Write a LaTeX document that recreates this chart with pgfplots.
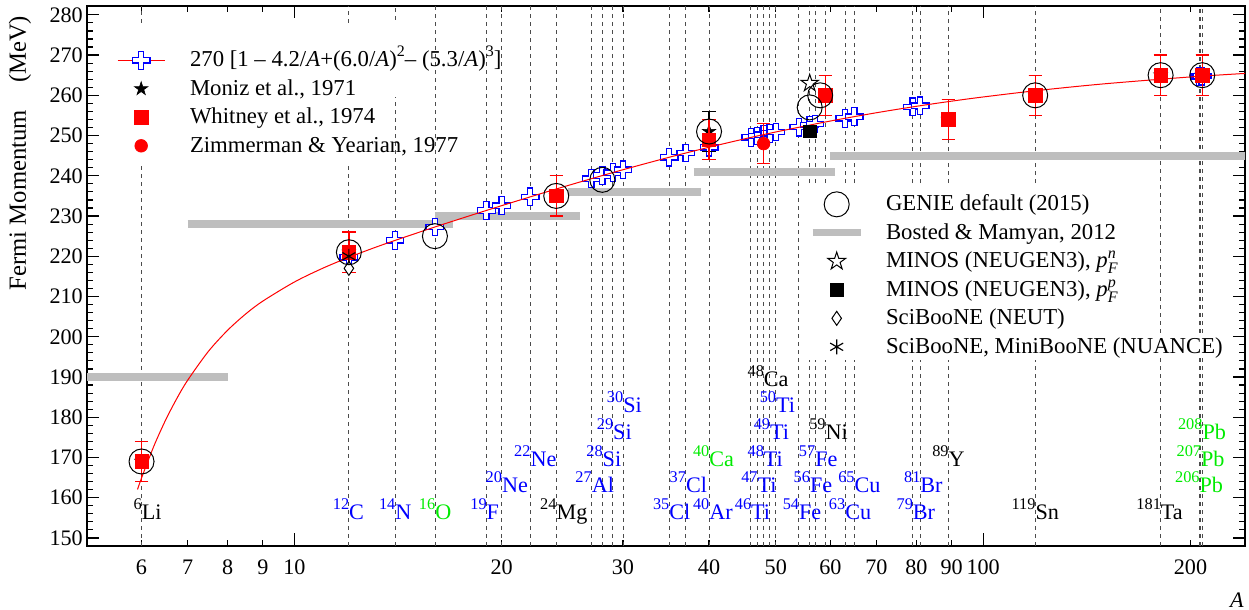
\documentclass[border=0pt]{standalone}
\usepackage{fontspec}
\setmainfont{Liberation Serif}
\usepackage{pgfplots}
\pgfplotsset{compat=1.18}
\usetikzlibrary{plotmarks}
\definecolor{bgray}{RGB}{190,190,190}
\definecolor{lgreen}{RGB}{0,235,0}
\newcommand{\lbl}{\fontsize{13.3}{16}\selectfont}
\newcommand{\lgd}{\fontsize{13.65}{16}\selectfont}
\newcommand{\iso}[2]{\llap{\raisebox{6pt}{\fontsize{9.8}{10}\selectfont #1}}#2}
\newcommand{\sps}[1]{\raisebox{6pt}{\fontsize{9.6}{10}\selectfont #1}}
\pgfdeclareplotmark{ocross}{%
 \pgfpathmoveto{\pgfqpoint{0.3\pgfplotmarksize}{\pgfplotmarksize}}%
 \pgfpathlineto{\pgfqpoint{-0.3\pgfplotmarksize}{\pgfplotmarksize}}%
 \pgfpathlineto{\pgfqpoint{-0.3\pgfplotmarksize}{0.3\pgfplotmarksize}}%
 \pgfpathlineto{\pgfqpoint{-\pgfplotmarksize}{0.3\pgfplotmarksize}}%
 \pgfpathlineto{\pgfqpoint{-\pgfplotmarksize}{-0.3\pgfplotmarksize}}%
 \pgfpathlineto{\pgfqpoint{-0.3\pgfplotmarksize}{-0.3\pgfplotmarksize}}%
 \pgfpathlineto{\pgfqpoint{-0.3\pgfplotmarksize}{-\pgfplotmarksize}}%
 \pgfpathlineto{\pgfqpoint{0.3\pgfplotmarksize}{-\pgfplotmarksize}}%
 \pgfpathlineto{\pgfqpoint{0.3\pgfplotmarksize}{-0.3\pgfplotmarksize}}%
 \pgfpathlineto{\pgfqpoint{\pgfplotmarksize}{-0.3\pgfplotmarksize}}%
 \pgfpathlineto{\pgfqpoint{\pgfplotmarksize}{0.3\pgfplotmarksize}}%
 \pgfpathlineto{\pgfqpoint{0.3\pgfplotmarksize}{0.3\pgfplotmarksize}}%
 \pgfpathclose\pgfusepathqfillstroke}
\pgfdeclareplotmark{fstar}{%
 \pgfpathmoveto{\pgfqpoint{0pt}{\pgfplotmarksize}}%
 \pgfpathlineto{\pgfqpoint{-0.2245\pgfplotmarksize}{0.3090\pgfplotmarksize}}%
 \pgfpathlineto{\pgfqpoint{-0.9511\pgfplotmarksize}{0.3090\pgfplotmarksize}}%
 \pgfpathlineto{\pgfqpoint{-0.3633\pgfplotmarksize}{-0.1180\pgfplotmarksize}}%
 \pgfpathlineto{\pgfqpoint{-0.5878\pgfplotmarksize}{-0.8090\pgfplotmarksize}}%
 \pgfpathlineto{\pgfqpoint{0pt}{-0.382\pgfplotmarksize}}%
 \pgfpathlineto{\pgfqpoint{0.5878\pgfplotmarksize}{-0.8090\pgfplotmarksize}}%
 \pgfpathlineto{\pgfqpoint{0.3633\pgfplotmarksize}{-0.1180\pgfplotmarksize}}%
 \pgfpathlineto{\pgfqpoint{0.9511\pgfplotmarksize}{0.3090\pgfplotmarksize}}%
 \pgfpathlineto{\pgfqpoint{0.2245\pgfplotmarksize}{0.3090\pgfplotmarksize}}%
 \pgfpathclose\pgfusepathqfillstroke}
\pgfdeclareplotmark{odiamond}{%
 \pgfpathmoveto{\pgfqpoint{0pt}{\pgfplotmarksize}}%
 \pgfpathlineto{\pgfqpoint{-0.68\pgfplotmarksize}{0pt}}%
 \pgfpathlineto{\pgfqpoint{0pt}{-\pgfplotmarksize}}%
 \pgfpathlineto{\pgfqpoint{0.68\pgfplotmarksize}{0pt}}%
 \pgfpathclose\pgfusepathqfillstroke}
\begin{document}
\begin{tikzpicture}
\begin{axis}[
 scale only axis, width=694.8pt, height=324pt,
 xmode=log, xmin=5, xmax=240, ymin=148, ymax=282.2,
 clip mode=individual,
 axis line style={line width=0.9pt},
 tick style={black, line width=0.7pt},
 major tick length=7.5pt, minor tick length=3.6pt,
 tick pos=both,
 xtick={10,100}, xticklabels={10,100},
 minor xtick={6,7,8,9,20,30,40,50,60,70,80,90,200},
 extra x ticks={6,7,8,9,20,30,40,50,60,70,80,90,200},
 extra x tick labels={6,7,8,9,20,30,40,50,60,70,80,90,200},
 extra x tick style={major tick length=0pt},
 ytick={150,160,...,280}, minor y tick num=4,
 /pgf/number format/assume math mode=true,
 tick label style={font=\lbl},
 xticklabel style={yshift=-5pt},
 yticklabel style={xshift=1pt},
 xlabel={\textit{A}},
 xlabel style={at={(axis description cs:0.9931,-0.1)}, anchor=center, font=\lbl},
 ylabel={Fermi Momentum\hspace{1.1em}(MeV)},
 ylabel style={at={(axis description cs:-0.0579,0.9926)}, anchor=east, font=\fontsize{14.8}{17}\selectfont},
 legend cell align=left,
 legend style={at={(axis description cs:0.02591,0.91543)}, anchor=north west,
   draw=none, fill=none, inner sep=0pt, row sep=5.1pt, column sep=0pt,
   font=\lgd, nodes={inner sep=0pt, text height=9pt, text depth=3pt}},
]
% isotope guide lines
\addplot[forget plot, black!70, line width=0.5pt, dash pattern=on 2.4pt off 2.4pt, unbounded coords=jump] coordinates {
 (6,148) (6,243.2) (6,nan) (6,278) (6,282.2) (6,nan)
 (12,148) (12,243.2) (12,nan) (12,278) (12,282.2) (12,nan)
 (14,148) (14,259.6) (14,nan) (14,278.8) (14,282.2) (14,nan)
 (16,148) (16,282.2) (16,nan)
 (19,148) (19,282.2) (19,nan)
 (20,148) (20,282.2) (20,nan)
 (22,148) (22,282.2) (22,nan)
 (24,148) (24,282.2) (24,nan)
 (27,148) (27,282.2) (27,nan)
 (28,148) (28,282.2) (28,nan)
 (29,148) (29,282.2) (29,nan)
 (30,148) (30,282.2) (30,nan)
 (35,148) (35,282.2) (35,nan)
 (37,148) (37,282.2) (37,nan)
 (40,148) (40,282.2) (40,nan)
 (46,148) (46,282.2) (46,nan)
 (47,148) (47,282.2) (47,nan)
 (48,148) (48,282.2) (48,nan)
 (49,148) (49,282.2) (49,nan)
 (50,148) (50,282.2) (50,nan)
 (54,148) (54,282.2) (54,nan)
 (56,148) (56,194.2) (56,nan) (56,238.2) (56,282.2) (56,nan)
 (57,148) (57,194.2) (57,nan) (57,238.2) (57,282.2) (57,nan)
 (59,148) (59,194.2) (59,nan) (59,238.2) (59,282.2) (59,nan)
 (63,148) (63,194.2) (63,nan) (63,238.2) (63,282.2) (63,nan)
 (65,148) (65,194.2) (65,nan) (65,238.2) (65,282.2) (65,nan)
 (79,148) (79,194.2) (79,nan) (79,238.2) (79,282.2) (79,nan)
 (81,148) (81,194.2) (81,nan) (81,238.2) (81,282.2) (81,nan)
 (89,148) (89,194.2) (89,nan) (89,238.2) (89,282.2) (89,nan)
 (119,148) (119,194.2) (119,nan) (119,238.2) (119,282.2) (119,nan)
 (181,148) (181,194.7) (181,nan) (181,201) (181,282.2) (181,nan)
 (206,148) (206,194.7) (206,nan) (206,201) (206,282.2) (206,nan)
 (207,148) (207,194.7) (207,nan) (207,201) (207,282.2) (207,nan)
 (208,148) (208,194.7) (208,nan) (208,201) (208,282.2)
};
% Bosted & Mamyan bands
\addplot[forget plot, bgray, line width=4.6pt] coordinates {(4,190) (8,190)};
\addplot[forget plot, bgray, line width=4.6pt] coordinates {(7,228) (17,228)};
\addplot[forget plot, bgray, line width=4.6pt] coordinates {(16,230) (26,230)};
\addplot[forget plot, bgray, line width=4.6pt] coordinates {(25,236) (39,236)};
\addplot[forget plot, bgray, line width=4.6pt] coordinates {(38,241) (61,241)};
\addplot[forget plot, bgray, line width=4.6pt] coordinates {(60,245) (300,245)};
% parametrisation points
\addplot[forget plot, only marks, mark=ocross, mark size=5.3pt, mark options={draw=blue, fill=white, line width=0.75pt}] coordinates {
 (12,219.74) (14,223.94) (16,227.28) (19,231.38) (20,232.58) (22,234.76)
 (27,239.29) (28,240.07) (29,240.81) (30,241.51) (35,244.60) (37,245.66)
 (40,247.10) (46,249.53) (47,249.89) (48,250.23) (49,250.56) (50,250.89)
 (54,252.08) (56,252.62) (57,252.88) (63,254.29) (65,254.71) (79,257.12)
 (81,257.41) (206,264.72) (207,264.73) (208,264.77)};
% parametrisation curve
\addplot[forget plot, red, line width=0.6pt, smooth] coordinates {
 (5.92,162.05) (6,164.90) (6.25,172.75) (6.5,179.23) (6.75,184.63) (7,189.18)
 (7.5,196.32) (8,201.61) (8.5,205.67) (9,208.86) (10,213.60) (11,217.04)
 (12,219.74) (13,221.99) (14,223.94) (16,227.28) (18,230.11) (20,232.58)
 (22,234.76) (24,236.72) (27,239.29) (30,241.51) (35,244.60) (40,247.10)
 (45,249.16) (50,250.89) (60,253.61) (70,255.67) (80,257.27) (90,258.55)
 (100,259.59) (120,261.20) (150,262.86) (200,264.57) (240,265.44)};
% Moniz 1971
\addplot[forget plot, only marks, mark=fstar, mark size=4.2pt, black,
 error bars/.cd, y dir=both, y explicit,
 error bar style={black, line width=0.7pt},
 error mark options={rotate=90, black, mark size=4pt, line width=0.7pt}] coordinates {
 (6,169) +- (0,5) (12,221) +- (0,5) (24,235) +- (0,5) (40,251) +- (0,5)
 (59,260) +- (0,5) (89,254) +- (0,5) (119,260) +- (0,5) (181,265) +- (0,5) (208,265) +- (0,5)};
% Whitney 1974
\addplot[forget plot, only marks, mark=square*, mark size=4pt, red,
 error bars/.cd, y dir=both, y explicit,
 error bar style={red, line width=0.8pt},
 error mark options={rotate=90, red, mark size=4pt, line width=0.8pt}] coordinates {
 (6,169) +- (0,5) (12,221) +- (0,5) (24,235) +- (0,5) (40,249) +- (0,5)
 (59,260) +- (0,5) (89,254) +- (0,5) (119,260) +- (0,5) (181,265) +- (0,5) (208,265) +- (0,5)};
% Zimmerman & Yearian 1977
\addplot[forget plot, only marks, mark=*, mark size=3.8pt, red,
 error bars/.cd, y dir=both, y explicit,
 error bar style={red, line width=0.8pt},
 error mark options={rotate=90, red, mark size=4pt, line width=0.8pt}] coordinates {
 (48,248) +- (0,5)};
% MINOS
\addplot[forget plot, only marks, mark=fstar, mark size=5.4pt, mark options={draw=black, fill=white, line width=0.6pt}] coordinates {(56,263)};
\addplot[forget plot, only marks, mark=square*, mark size=3.7pt, black] coordinates {(56,251)};
% SciBooNE
\addplot[forget plot, only marks, mark=odiamond, mark size=4.2pt, mark options={draw=black, fill=white, line width=0.6pt}] coordinates {(12,217)};
\addplot[forget plot, only marks, mark=asterisk, mark size=4.5pt, mark options={black, line width=0.7pt}] coordinates {(12,220)};
% GENIE default
\addplot[forget plot, only marks, mark=o, mark size=7.5pt, mark options={black, line width=0.6pt}] coordinates {
 (6,169) (12,221) (16,225) (24,235) (28,239) (40,251) (56,257) (58,260) (119,260) (181,265) (208,265)};
% isotope labels
\begin{scope}[every node/.style={anchor=base west, inner sep=0pt, font=\lbl}]
\node[text=black] at (axis cs:6,154.5) {\iso{6}{Li}};
\node[text=blue] at (axis cs:12,154.5) {\iso{12}{C}};
\node[text=blue] at (axis cs:14,154.5) {\iso{14}{N}};
\node[text=lgreen] at (axis cs:16,154.5) {\iso{16}{O}};
\node[text=blue] at (axis cs:19,154.5) {\iso{19}{F}};
\node[text=black] at (axis cs:24,154.5) {\iso{24}{Mg}};
\node[text=blue] at (axis cs:35,154.5) {\iso{35}{Cl}};
\node[text=blue] at (axis cs:40,154.5) {\iso{40}{Ar}};
\node[text=blue] at (axis cs:46,154.5) {\iso{46}{Ti}};
\node[text=blue] at (axis cs:54,154.5) {\iso{54}{Fe}};
\node[text=blue] at (axis cs:63,154.5) {\iso{63}{Cu}};
\node[text=blue] at (axis cs:79,154.5) {\iso{79}{Br}};
\node[text=black] at (axis cs:119,154.5) {\iso{119}{Sn}};
\node[text=black] at (axis cs:181,154.5) {\iso{181}{Ta}};
\node[text=blue] at (axis cs:20,161.3) {\iso{20}{Ne}};
\node[text=blue] at (axis cs:27,161.3) {\iso{27}{Al}};
\node[text=blue] at (axis cs:37,161.3) {\iso{37}{Cl}};
\node[text=blue] at (axis cs:47,161.3) {\iso{47}{Ti}};
\node[text=blue] at (axis cs:56,161.3) {\iso{56}{Fe}};
\node[text=blue] at (axis cs:65,161.3) {\iso{65}{Cu}};
\node[text=blue] at (axis cs:81,161.3) {\iso{81}{Br}};
\node[text=lgreen] at (axis cs:206,161.3) {\iso{206}{Pb}};
\node[text=blue] at (axis cs:22,167.7) {\iso{22}{Ne}};
\node[text=blue] at (axis cs:28,167.7) {\iso{28}{Si}};
\node[text=lgreen] at (axis cs:40,167.7) {\iso{40}{Ca}};
\node[text=blue] at (axis cs:48,167.7) {\iso{48}{Ti}};
\node[text=blue] at (axis cs:57,167.7) {\iso{57}{Fe}};
\node[text=black] at (axis cs:89,167.7) {\iso{89}{Y}};
\node[text=lgreen] at (axis cs:207,167.7) {\iso{207}{Pb}};
\node[text=blue] at (axis cs:29,174.5) {\iso{29}{Si}};
\node[text=blue] at (axis cs:49,174.5) {\iso{49}{Ti}};
\node[text=black] at (axis cs:59,174.5) {\iso{59}{Ni}};
\node[text=lgreen] at (axis cs:208,174.5) {\iso{208}{Pb}};
\node[text=blue] at (axis cs:30,181.1) {\iso{30}{Si}};
\node[text=blue] at (axis cs:50,181.1) {\iso{50}{Ti}};
\node[text=black] at (axis cs:48,187.6) {\iso{48}{Ca}};
\end{scope}
\coordinate (SW) at (rel axis cs:0,0);
% legend 1
\addlegendimage{legend image code/.code={%
 \draw[overlay, red, line width=0.6pt] (0pt,1pt) -- (28.2pt,1pt);
 \draw[overlay, blue, fill=white, line width=0.75pt] plot[mark=ocross, mark size=5.3pt] coordinates {(14.1pt,1pt)};
 \path (0pt,0pt) (43.2pt,0pt);}}
\addlegendentry{270 [1 -- 4.2/\textit{A}+(6.0/\textit{A})\sps{2}-- (5.3/\textit{A})\sps{3}]}
\addlegendimage{legend image code/.code={%
 \draw[overlay, black, fill=black] plot[mark=fstar, mark size=4.2pt] coordinates {(14.1pt,1pt)};
 \path (0pt,0pt) (43.2pt,0pt);}}
\addlegendentry{Moniz et al., 1971}
\addlegendimage{legend image code/.code={%
 \draw[overlay, red, fill=red] plot[mark=square*, mark size=4pt] coordinates {(14.1pt,1pt)};
 \path (0pt,0pt) (43.2pt,0pt);}}
\addlegendentry{Whitney et al., 1974}
\addlegendimage{legend image code/.code={%
 \draw[overlay, red, fill=red] plot[mark=*, mark size=3.8pt] coordinates {(14.1pt,1pt)};
 \path (0pt,0pt) (43.2pt,0pt);}}
\addlegendentry{Zimmerman \& Yearian, 1977}
\end{axis}
\begin{axis}[
 scale only axis, width=694.8pt, height=324pt,
 xmode=log, xmin=5, xmax=240, ymin=148, ymax=282.2,
 hide axis,
 legend cell align=left,
 legend style={at={(axis description cs:0.62608,0.64876)}, anchor=north west,
   draw=none, fill=none, inner sep=0pt, row sep=5.1pt, column sep=0pt,
   font=\lgd, nodes={inner sep=0pt, text height=9pt, text depth=3pt}},
]
\addplot[forget plot, draw=none] coordinates {(10,200)};
\addlegendimage{legend image code/.code={%
 \draw[overlay, black, line width=0.6pt] plot[mark=o, mark size=7.5pt] coordinates {(14.4pt,1pt)};
 \path (0pt,0pt) (43.8pt,0pt);}}
\addlegendentry{GENIE default (2015)}
\addlegendimage{legend image code/.code={%
 \draw[overlay, bgray, line width=4.4pt] (0pt,1pt) -- (28.8pt,1pt);
 \path (0pt,0pt) (43.8pt,0pt);}}
\addlegendentry{Bosted \& Mamyan, 2012}
\addlegendimage{legend image code/.code={%
 \draw[overlay, black, fill=white, line width=0.6pt] plot[mark=fstar, mark size=5.6pt] coordinates {(14.4pt,1pt)};
 \path (0pt,0pt) (43.8pt,0pt);}}
\addlegendentry{MINOS (NEUGEN3), \textit{p}\rlap{\raisebox{-3.5pt}{\fontsize{9.6}{10}\selectfont\textit{F}}}\raisebox{5.5pt}{\fontsize{9.6}{10}\selectfont\textit{n}}}
\addlegendimage{legend image code/.code={%
 \draw[overlay, black, fill=black] plot[mark=square*, mark size=3.7pt] coordinates {(14.4pt,1pt)};
 \path (0pt,0pt) (43.8pt,0pt);}}
\addlegendentry{MINOS (NEUGEN3), \textit{p}\rlap{\raisebox{-3.5pt}{\fontsize{9.6}{10}\selectfont\textit{F}}}\raisebox{5.5pt}{\fontsize{9.6}{10}\selectfont\textit{p}}}
\addlegendimage{legend image code/.code={%
 \draw[overlay, black, fill=white, line width=0.6pt] plot[mark=odiamond, mark size=4.2pt] coordinates {(14.4pt,1pt)};
 \path (0pt,0pt) (43.8pt,0pt);}}
\addlegendentry{SciBooNE (NEUT)}
\addlegendimage{legend image code/.code={%
 \draw[overlay, black, line width=0.7pt] plot[mark=asterisk, mark size=4.5pt] coordinates {(14.4pt,1pt)};
 \path (0pt,0pt) (43.8pt,0pt);}}
\addlegendentry{SciBooNE, MiniBooNE (NUANCE)}
\end{axis}
\pgfresetboundingbox
\path (SW) ++(-52.2pt,-38.4pt) rectangle ++(749.4pt,366pt);
\end{tikzpicture}
\end{document}
